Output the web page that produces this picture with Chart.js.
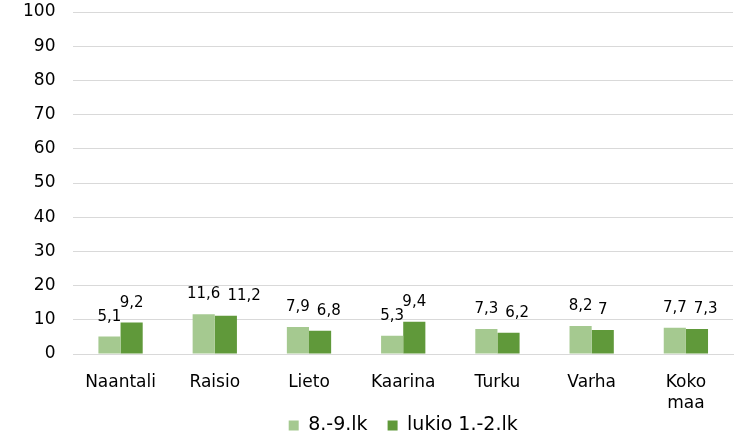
<!DOCTYPE html>
<html>
<head>
<meta charset="utf-8">
<script src="https://cdn.jsdelivr.net/npm/chart.js@4"></script>
<style>
  body { margin: 0; background: #fff; }
  #wrap { width: 749px; height: 436px; }
</style>
</head>
<body>
<div id="wrap"><canvas id="chart"></canvas></div>
<script>
const kunnat = ['Naantali', 'Raisio', 'Lieto', 'Kaarina', 'Turku', 'Varha', ['Koko', 'maa']];
const ylakoulu = [5.1, 11.6, 7.9, 5.3, 7.3, 8.2, 7.7];
const lukio = [9.2, 11.2, 6.8, 9.4, 6.2, 7, 7.3];
const sarjat = ['8.-9.lk', 'lukio 1.-2.lk'];

const fontti = 'DejaVu Sans, Verdana, sans-serif';

// arvot palkkien päälle, lukion arvo siirtyy oikealle jos menisi päällekkäin
const arvoPlugin = {
    id: 'arvot',
    beforeDraw(chart) {
        // "Koko maa" saa mennä selitteen alueelle
        chart.scales.x._computeLabelArea = () => undefined;
    },
    afterDatasetsDraw(chart) {
        const ctx = chart.ctx;
        ctx.save();
        ctx.font = '15px ' + fontti;
        ctx.fillStyle = '#000';
        ctx.textAlign = 'center';
        ctx.textBaseline = 'alphabetic';
        const m0 = chart.getDatasetMeta(0).data;
        const m1 = chart.getDatasetMeta(1).data;
        kunnat.forEach((k, j) => {
            const t0 = String(ylakoulu[j]).replace('.', ',');
            const t1 = String(lukio[j]).replace('.', ',');
            const w0 = ctx.measureText(t0).width;
            const w1 = ctx.measureText(t1).width;
            let x1 = m1[j].x;
            const rako = (x1 - w1 / 2) - (m0[j].x + w0 / 2);
            const dy = Math.abs(m1[j].y - m0[j].y);
            if (dy < 12 && (rako < 0 || (dy < 2 && rako < 2))) {
                x1 = m0[j].x + w0 / 2 + 7 + w1 / 2;
            }
            ctx.fillText(t0, m0[j].x, m0[j].y - 16);
            ctx.fillText(t1, x1, m1[j].y - 16);
        });
        ctx.restore();
    }
};

new Chart(document.getElementById('chart').getContext('2d'), {
    type: 'bar',
    data: {
        labels: kunnat,
        datasets: [
            { label: sarjat[0], data: ylakoulu, backgroundColor: '#a5c990', categoryPercentage: 0.47, barPercentage: 1 },
            { label: sarjat[1], data: lukio, backgroundColor: '#60993a', categoryPercentage: 0.47, barPercentage: 1 }
        ]
    },
    options: {
        responsive: true,
        maintainAspectRatio: false,
        animation: false,
        layout: { padding: { left: 5, right: 16, top: 0, bottom: -9 } },
        plugins: {
            legend: {
                position: 'bottom',
                fullSize: false,
                labels: {
                    color: '#000',
                    font: { family: fontti, size: 19 },
                    boxWidth: 10,
                    boxHeight: 10,
                    padding: 20
                }
            },
            tooltip: { enabled: false }
        },
        scales: {
            x: {
                grid: { display: false },
                border: { color: '#d9d9d9' },
                ticks: { color: '#000', font: { family: fontti, size: 17, lineHeight: 1.25 }, padding: 10 },
                afterFit: s => { s.height = 42; }
            },
            y: {
                min: 0,
                max: 100,
                border: { display: false },
                grid: { color: '#d9d9d9', drawTicks: false },
                ticks: { stepSize: 10, color: '#000', font: { family: fontti, size: 17 }, padding: 18 },
                afterFit: s => { s.paddingTop = 12; s.paddingBottom = 10; }
            }
        }
    },
    plugins: [arvoPlugin]
});
</script>
</body>
</html>
